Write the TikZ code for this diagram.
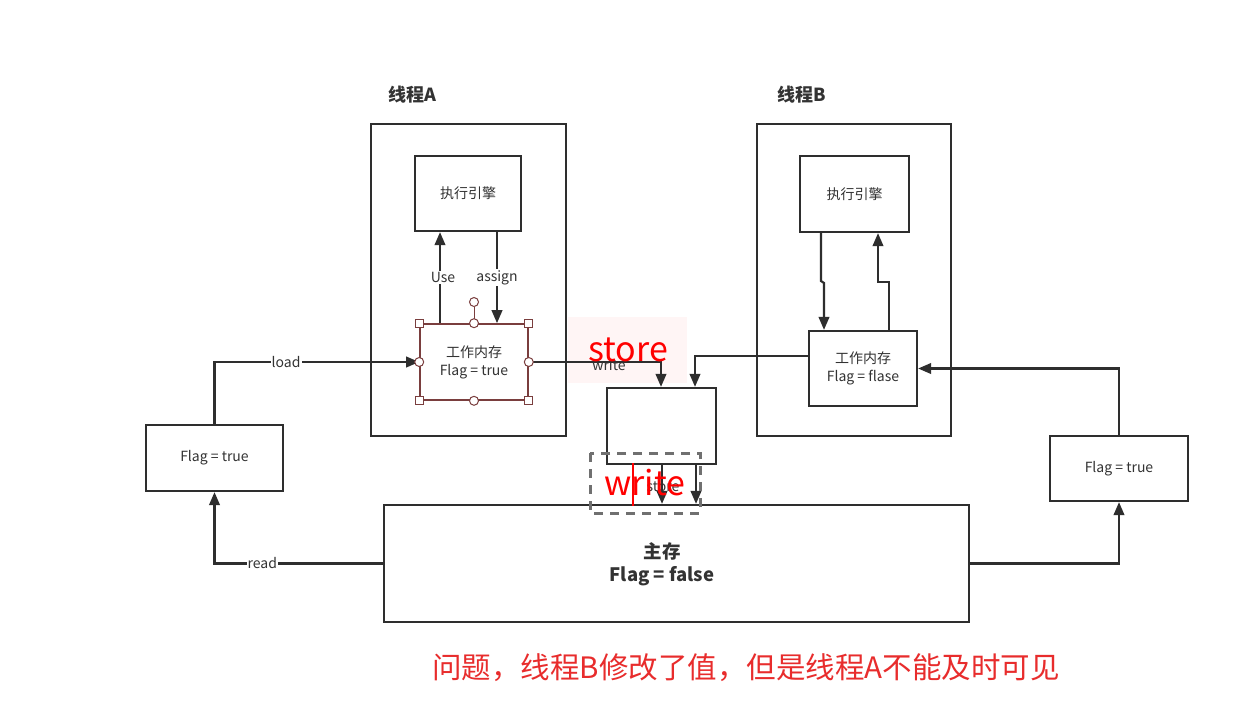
\documentclass[tikz,border=0pt]{standalone}
\usepackage{fontspec}
\setmainfont{Noto Sans CJK SC}
\usetikzlibrary{arrows.meta,calc}
\definecolor{lnc}{HTML}{2E2E2E}
\definecolor{txc}{HTML}{333333}
\definecolor{hdc}{HTML}{7A3E3E}
\definecolor{rdc}{HTML}{FF0000}
\definecolor{rdb}{HTML}{E82C2C}
\definecolor{pkc}{HTML}{FFF5F5}
\definecolor{dgc}{HTML}{707070}
\begin{document}
\begin{tikzpicture}[x=1pt,y=-1pt,
  box/.style={draw=lnc,line width=2.2pt,inner sep=0pt,rectangle},
  selbox/.style={draw=hdc,line width=1.6pt,inner sep=0pt,rectangle},
  arr/.style={draw=lnc,line width=2.2pt,-{Triangle[length=13pt,width=10.5pt]}},
  lab/.style={fill=white,inner sep=1pt,font=\fontsize{14}{16}\selectfont,text=txc},
  txt/.style={font=\fontsize{14}{18}\selectfont,text=txc,align=center},
  ttl/.style={font=\fontsize{18}{21}\selectfont\bfseries,text=txc},
  hsq/.style={draw=hdc,fill=white,line width=1pt,rectangle,minimum size=8pt,inner sep=0pt},
  hci/.style={draw=hdc,fill=white,line width=1pt,circle,minimum size=9pt,inner sep=0pt},
  bigred/.style={font=\fontsize{34}{36}\selectfont,text=rdc},
]
\useasboundingbox (0,0) rectangle (1256,718);
\fill[white] (0,0) rectangle (1256,718);
% faint highlight behind "store"
\fill[pkc] (568,317) rectangle (687,383);

% titles
\node[ttl] (tA) at (412,95) {线程A};
\node[ttl] (tB) at (802,95) {线程B};

% thread boxes
\node[box,minimum width=195pt,minimum height=312pt] (thA) at (468.5,280) {};
\node[box,minimum width=194pt,minimum height=312pt] (thB) at (854,280) {};

% engines
\node[box,txt,minimum width=106pt,minimum height=75pt] (exA) at (468,193.5) {执行引擎};
\node[box,txt,minimum width=109pt,minimum height=76pt] (exB) at (854.5,194) {执行引擎};

% working memories
\node[selbox,txt,minimum width=108pt,minimum height=76pt] (wmA) at (474,362) {工作内存\\Flag = true};
\node[box,txt,minimum width=108pt,minimum height=75pt] (wmB) at (863,368.5) {工作内存\\Flag = flase};

% flag boxes
\node[box,txt,minimum width=137pt,minimum height=66pt] (lf) at (214.5,458) {Flag = true};
\node[box,txt,minimum width=138pt,minimum height=65pt] (rf) at (1119,468.5) {Flag = true};

% store box and main memory
\node[box,minimum width=109pt,minimum height=76pt] (st) at (661.5,426) {};
\node[box,minimum width=585pt,minimum height=117pt] (mm) at (676.5,563.5) {};
\node[font=\fontsize{18.5}{23}\selectfont\bfseries,text=txc,align=center] (mmt) at (662,564) {主存\\Flag = false};

% connectors in thread A
\draw[arr] (wmA.north -| 440,0) -- node[lab,xshift=3pt]{Use} (exA.south -| 440,0);
\draw[arr] (exA.south -| 497,0) -- node[lab]{assign} (wmA.north -| 497,0);

% load / read
\draw[arr] (lf.north) |- node[lab,pos=0.675]{load} (wmA.west);
\draw[arr] (mm.west) -| node[lab,pos=0.358]{read} (lf.south);

% right side
\draw[arr] (mm.east) -| (rf.south);
\draw[arr] (rf.north) |- (wmB.east);

% thread B internal
\draw[arr] (exB.south -| 821,0) -- (821,281) -- (824,283) -- (wmB.north -| 824,0);
\draw[arr] (wmB.north -| 889,0) -- (889,282) -- (878,282) -- (exB.south -| 878,0);

% into store box
\draw[arr] (wmB.west |- 0,356) -| (st.north -| 695,0);
\draw[arr] (wmA.east) -| (st.north -| 661,0);
\node[txt] (wrA) at (609,365) {write};

% store box to main memory
\draw[arr] (st.south -| 662,0) -- (mm.north -| 662,0);
\draw[arr] (st.south -| 696,0) -- (mm.north -| 696,0);
\node[txt] (stl) at (663,487) {store};

% selection handles on wmA
\draw[hdc,line width=1pt] (wmA.north) -- (474,307);
\node[hci] (rot) at (474,302) {};
\foreach \a in {north west,north east,south west,south east}
  \node[hsq] at (wmA.\a) {};
\foreach \a in {north,south,east,west}
  \node[hci] at (wmA.\a) {};

% dashed annotation box
\draw[dgc,line width=3pt,dash pattern=on 9pt off 7pt] (590,453) rectangle (700,513);
\draw[rdc,line width=1.5pt] (633,463) -- (633,506);

% red annotations
\node[bigred] (rs) at (628,350) {store};
\node[bigred] (rw) at (645,483) {write};
\node[font=\fontsize{29.5}{32}\selectfont,text=rdb] (note) at (746,668) {问题，线程B修改了值，但是线程A不能及时可见};
\end{tikzpicture}
\end{document}
